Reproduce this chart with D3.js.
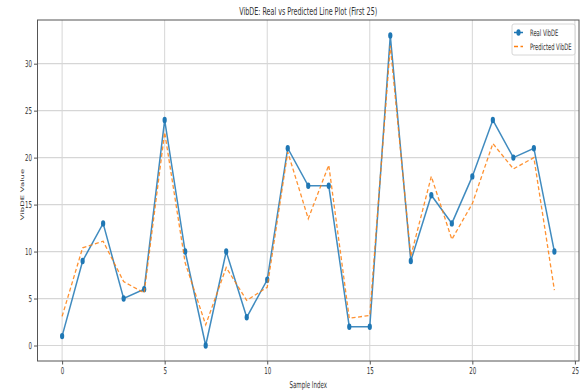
<!DOCTYPE html>
<html>
<head>
<meta charset="utf-8">
<script src="https://cdn.jsdelivr.net/npm/d3@7"></script>
<style>
  body { margin: 0; background: #fff; }
  text { font-family: "DejaVu Sans", sans-serif; fill: #333; }
</style>
</head>
<body>
<svg id="chart" width="584" height="392"></svg>
<script>
// sample index 0..24
const sampleIndex = d3.range(25);
const realVibDE = [1, 9, 13, 5, 6, 24, 10, 0, 10, 3, 7, 21, 17, 17, 2, 2, 33, 9, 16, 13, 18, 24, 20, 21, 10];
const predictedVibDE = [3.1, 10.4, 11.1, 6.8, 5.6, 22.7, 8.8, 2.2, 8.3, 4.8, 6.2, 20.6, 13.5, 19.2, 2.9, 3.2, 31.9, 9.5, 18.0, 11.3, 15.1, 21.5, 18.8, 20.0, 5.9];
const xTicks = [0, 5, 10, 15, 20, 25];
const yTicks = [0, 5, 10, 15, 20, 25, 30];

const svg = d3.select("#chart");
const sx = 0.58; // the picture is squeezed sideways, so is the text

const margin = { top: 20, right: 5, bottom: 31, left: 37.5 };
const width = 584, height = 392;
const x0 = margin.left, x1 = width - margin.right;
const y0 = margin.top, y1 = height - margin.bottom;

const xScale = d3.scaleLinear().domain([-1.2, 25.2]).range([x0, x1]);
const yScale = d3.scaleLinear().domain([-1.65, 34.65]).range([y1, y0]);

// grid
svg.append("g")
  .selectAll("line.vg")
  .data(xTicks)
  .enter().append("line")
  .attr("x1", d => xScale(d)).attr("x2", d => xScale(d))
  .attr("y1", y0).attr("y2", y1)
  .attr("stroke", "#d6d6d6").attr("stroke-width", 1);
svg.append("g")
  .selectAll("line.hg")
  .data(yTicks)
  .enter().append("line")
  .attr("x1", x0).attr("x2", x1)
  .attr("y1", d => yScale(d)).attr("y2", d => yScale(d))
  .attr("stroke", "#d6d6d6").attr("stroke-width", 1.2);

// axes
const xAxis = d3.axisBottom(xScale).tickValues(xTicks).tickSize(3.5).tickPadding(3);
const yAxis = d3.axisLeft(yScale).tickValues(yTicks).tickSize(3.5).tickPadding(2);

const gx = svg.append("g").attr("transform", "translate(0," + y1 + ")").call(xAxis);
gx.select(".domain").remove();
gx.selectAll("line").attr("stroke", "#555");
gx.selectAll("text")
  .attr("font-size", 9.5)
  .attr("fill", "#333")
  .attr("transform", "scale(" + sx + ",1)");

const gy = svg.append("g").attr("transform", "translate(" + x0 + ",0)").call(yAxis);
gy.select(".domain").remove();
gy.selectAll("line").attr("stroke", "#555");
gy.selectAll("text")
  .attr("font-size", 9.5)
  .attr("fill", "#333")
  .attr("x", -5.5 / sx)
  .attr("transform", "scale(" + sx + ",1)");

// frame
svg.append("rect")
  .attr("x", x0).attr("y", y0)
  .attr("width", x1 - x0).attr("height", y1 - y0)
  .attr("fill", "none").attr("stroke", "#555").attr("stroke-width", 1);

// lines
const line = d3.line().x((d, i) => xScale(sampleIndex[i])).y(d => yScale(d));

svg.append("path")
  .datum(realVibDE)
  .attr("d", line)
  .attr("fill", "none")
  .attr("stroke", "#1f77b4")
  .attr("stroke-opacity", 0.85)
  .attr("stroke-width", 1.5);

svg.append("g")
  .selectAll("ellipse")
  .data(realVibDE)
  .enter().append("ellipse")
  .attr("cx", (d, i) => xScale(sampleIndex[i]))
  .attr("cy", d => yScale(d))
  .attr("rx", 2.1).attr("ry", 3.2)
  .attr("fill", "#1f77b4");

svg.append("path")
  .datum(predictedVibDE)
  .attr("d", line)
  .attr("fill", "none")
  .attr("stroke", "#ff7f0e")
  .attr("stroke-opacity", 0.85)
  .attr("stroke-width", 1.3)
  .attr("stroke-dasharray", "4,2.5");

// titles
function squeezedText(x, y, str, size, rotate) {
  const t = svg.append("text")
    .attr("text-anchor", "middle")
    .attr("font-size", size)
    .text(str);
  if (rotate) {
    t.attr("transform", "translate(" + x + "," + y + ") scale(" + sx + ",1) rotate(-90)");
  } else {
    t.attr("transform", "translate(" + x + "," + y + ") scale(" + sx + ",1)");
  }
  return t;
}
squeezedText((x0 + x1) / 2, 14.5, "VibDE: Real vs Predicted Line Plot (First 25)", 11);
squeezedText((x0 + x1) / 2, 388, "Sample Index", 9.5);
squeezedText(23.5, (y0 + y1) / 2 + 4, "VibDE Value", 8.5, true);

// legend
const lg = svg.append("g").attr("transform", "translate(512,24)");
lg.append("rect")
  .attr("width", 63).attr("height", 31)
  .attr("rx", 2)
  .attr("fill", "#fff").attr("fill-opacity", 0.8)
  .attr("stroke", "#ccc").attr("stroke-width", 0.8);
lg.append("line")
  .attr("x1", 2).attr("x2", 11).attr("y1", 8.5).attr("y2", 8.5)
  .attr("stroke", "#1f77b4").attr("stroke-width", 1.5);
lg.append("ellipse")
  .attr("cx", 6.5).attr("cy", 8.5).attr("rx", 2.1).attr("ry", 3.2)
  .attr("fill", "#1f77b4");
lg.append("line")
  .attr("x1", 2).attr("x2", 11).attr("y1", 22.5).attr("y2", 22.5)
  .attr("stroke", "#ff7f0e").attr("stroke-width", 1.3)
  .attr("stroke-dasharray", "4,2.5");
lg.append("text")
  .attr("font-size", 9)
  .attr("transform", "translate(18,11.5) scale(" + sx + ",1)")
  .text("Real VibDE");
lg.append("text")
  .attr("font-size", 9)
  .attr("transform", "translate(18,25.5) scale(" + sx + ",1)")
  .text("Predicted VibDE");
</script>
</body>
</html>
